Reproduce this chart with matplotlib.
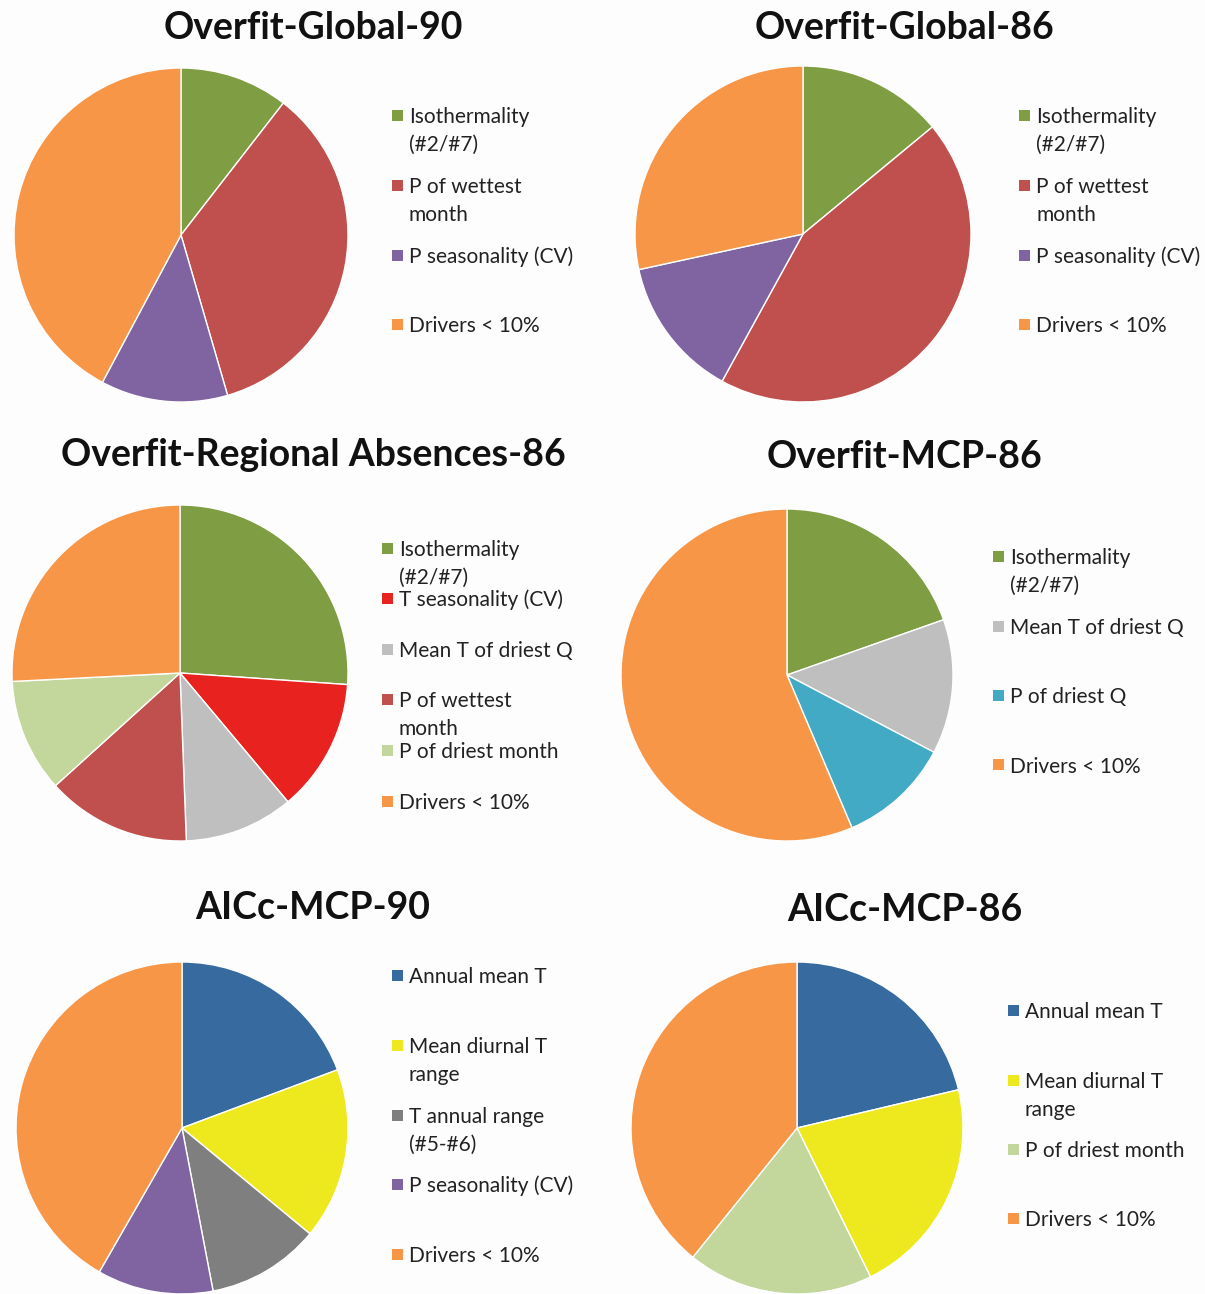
import matplotlib
matplotlib.use("Agg")
import matplotlib.pyplot as plt

plt.rcParams['font.family'] = ['Lato', 'DejaVu Sans']

# colours used in the figure
GREEN = '#7f9d43'
RED = '#c0504d'
PURPLE = '#8064a2'
ORANGE = '#f79646'
BRIGHT_RED = '#e8221e'
GREY = '#bfbfbf'
LIGHT_GREEN = '#c3d69b'
TEAL = '#43aac5'
BLUE = '#376a9e'
YELLOW = '#eee81e'
DARK_GREY = '#7f7f7f'

# ---- data (percent of importance) ----
titles = ['Overfit-Global-90', 'Overfit-Global-86',
          'Overfit-Regional Absences-86', 'Overfit-MCP-86',
          'AICc-MCP-90', 'AICc-MCP-86']

labels_g90 = ['Isothermality\n(#2/#7)', 'P of wettest\nmonth', 'P seasonality (CV)', 'Drivers < 10%']
values_g90 = [10.5, 35.0, 12.3, 42.2]
colors_g90 = [GREEN, RED, PURPLE, ORANGE]

labels_g86 = ['Isothermality\n(#2/#7)', 'P of wettest\nmonth', 'P seasonality (CV)', 'Drivers < 10%']
values_g86 = [14.0, 44.0, 13.6, 28.4]
colors_g86 = [GREEN, RED, PURPLE, ORANGE]

labels_ra86 = ['Isothermality\n(#2/#7)', 'T seasonality (CV)', 'Mean T of driest Q',
               'P of wettest\nmonth', 'P of driest month', 'Drivers < 10%']
values_ra86 = [26.1, 12.8, 10.5, 13.9, 10.9, 25.8]
colors_ra86 = [GREEN, BRIGHT_RED, GREY, RED, LIGHT_GREEN, ORANGE]

labels_mcp86 = ['Isothermality\n(#2/#7)', 'Mean T of driest Q', 'P of driest Q', 'Drivers < 10%']
values_mcp86 = [19.6, 13.1, 10.9, 56.4]
colors_mcp86 = [GREEN, GREY, TEAL, ORANGE]

labels_a90 = ['Annual mean T', 'Mean diurnal T\nrange', 'T annual range\n(#5-#6)',
              'P seasonality (CV)', 'Drivers < 10%']
values_a90 = [19.3, 16.7, 11.0, 11.3, 41.7]
colors_a90 = [BLUE, YELLOW, DARK_GREY, PURPLE, ORANGE]

labels_a86 = ['Annual mean T', 'Mean diurnal T\nrange', 'P of driest month', 'Drivers < 10%']
values_a86 = [21.3, 21.4, 18.1, 39.2]
colors_a86 = [BLUE, YELLOW, LIGHT_GREEN, ORANGE]

W, H = 1205, 1294
fig = plt.figure(figsize=(W / 100, H / 100), dpi=100)
fig.patch.set_facecolor('#fdfdfd')


def fx(x):
    return x / W


def fy(y):
    return 1 - y / H


# layout per panel: pie centre, radius, title position, legend x, legend rows (y)
panels = [
    (values_g90, colors_g90, labels_g90, (181, 235), 167, (313, 28), 397, [115, 185, 255, 324]),
    (values_g86, colors_g86, labels_g86, (803, 234), 168, (905, 28), 1024, [115, 185, 255, 324]),
    (values_ra86, colors_ra86, labels_ra86, (180, 673), 168, (313, 455), 387,
     [548, 598, 649, 699, 750, 801]),
    (values_mcp86, colors_mcp86, labels_mcp86, (787, 675), 166, (905, 457), 998, [556, 626, 695, 765]),
    (values_a90, colors_a90, labels_a90, (182, 1128), 166, (313, 908), 397,
     [975, 1045, 1115, 1184, 1254]),
    (values_a86, colors_a86, labels_a86, (797, 1128), 166, (905, 910), 1013, [1010, 1080, 1149, 1218]),
]

LINE = 28  # pixel distance between wrapped legend lines

for i, (vals, cols, labs, (cx, cy), r, (tx, ty), lx, rows) in enumerate(panels):
    ax = fig.add_axes([fx(cx - r), fy(cy + r), 2 * r / W, 2 * r / H])
    ax.pie(vals, colors=cols, startangle=90, counterclock=False,
           wedgeprops=dict(edgecolor='white', linewidth=1))
    ax.set_xlim(-1, 1)
    ax.set_ylim(-1, 1)
    ax.set_aspect('equal')
    ax.axis('off')

    fig.text(fx(tx), fy(ty), titles[i], ha='center', va='center',
             fontsize=27, fontweight='bold', color='#111111')

    # legend drawn by hand to keep the uneven row spacing
    sq = 11
    for lab, col, y in zip(labs, cols, rows):
        fig.patches.append(plt.Rectangle((fx(lx - sq / 2), fy(y + sq / 2)), sq / W, sq / H,
                                         facecolor=col, edgecolor='none',
                                         transform=fig.transFigure, figure=fig))
        for k, line in enumerate(lab.split('\n')):
            fig.text(fx(lx + 12), fy(y + k * LINE), line, ha='left', va='center_baseline',
                     fontsize=15, color='#222222')

fig.savefig('out.png', dpi=100, facecolor=fig.get_facecolor())
